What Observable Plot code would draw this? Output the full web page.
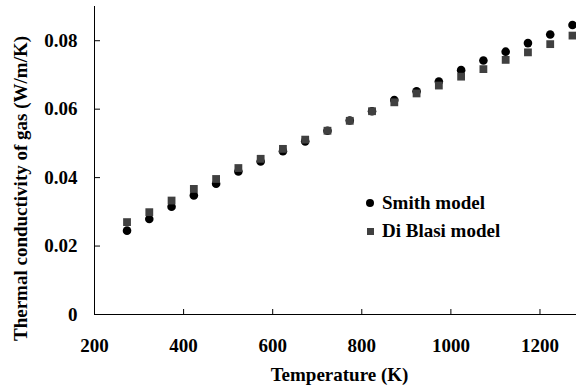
<!DOCTYPE html>
<html>
<head>
<meta charset="utf-8">
<script src="https://cdn.jsdelivr.net/npm/d3@7"></script>
<script src="https://cdn.jsdelivr.net/npm/@observablehq/plot@0.6"></script>
<style>
  html, body { margin: 0; padding: 0; background: #fff; }
  #wrap { position: relative; width: 576px; height: 391px; font-family: "Liberation Serif", "Times New Roman", serif; font-weight: bold; }
  #legend { position: absolute; left: 364px; top: 189px; font-size: 19px; line-height: 28px; color: #000; }
  #legend .row { display: flex; align-items: center; }
  #legend .sym { width: 12px; display: inline-flex; justify-content: center; margin-right: 6px; }
  #legend .circ { width: 8px; height: 8px; border-radius: 50%; background: #000; }
  #legend .sq { width: 7px; height: 7px; background: #404040; }
</style>
</head>
<body>
<div id="wrap"></div>
<script>
const temperature = [273, 323, 373, 423, 473, 523, 573, 623, 673, 723, 773, 823, 873, 923, 973, 1023, 1073, 1123, 1173, 1223, 1273];
const smith = [0.0245, 0.0279, 0.0315, 0.0348, 0.0382, 0.0418, 0.0447, 0.0477, 0.0506, 0.0537, 0.0567, 0.0594, 0.0627, 0.0652, 0.0681, 0.0714, 0.0742, 0.0768, 0.0793, 0.0818, 0.0846];
const diBlasi = [0.0270, 0.0299, 0.0333, 0.0367, 0.0396, 0.0428, 0.0455, 0.0484, 0.0511, 0.0537, 0.0566, 0.0594, 0.0620, 0.0646, 0.0669, 0.0695, 0.0717, 0.0744, 0.0766, 0.0790, 0.0815];
const xTicks = [200, 400, 600, 800, 1000, 1200];
const yTicks = [0, 0.02, 0.04, 0.06, 0.08];
const yTickLabels = ["0", "0.02", "0.04", "0.06", "0.08"];
const seriesNames = ["Smith model", "Di Blasi model"];
const xTitle = "Temperature (K)";
const yTitle = "Thermal conductivity of gas (W/m/K)";

const smithData = temperature.map((t, i) => ({t, k: smith[i]}));
const blasiData = temperature.map((t, i) => ({t, k: diBlasi[i]}));

const font = "Liberation Serif";
const chart = Plot.plot({
  width: 576,
  height: 391,
  marginLeft: 94,
  marginRight: 0,
  marginTop: 6,
  marginBottom: 77,
  style: {fontFamily: font, fontWeight: "bold", fontSize: "19px", color: "#000", background: "#fff"},
  x: {domain: [200, 1282], type: "linear"},
  y: {domain: [0, 0.09]},
  marks: [
    // tick labels
    Plot.axisX({ticks: xTicks, tickSize: 0, tickPadding: 24, tickFormat: d => String(d), fontSize: 19, fontWeight: "bold", label: null}),
    Plot.axisY({ticks: yTicks, tickSize: 0, tickPadding: 17, tickFormat: d => yTickLabels[yTicks.indexOf(d)], fontSize: 19, fontWeight: "bold", label: null}),
    // inward tick marks
    Plot.axisX({ticks: xTicks.slice(1), tickSize: -5, text: null, label: null, stroke: "#000"}),
    Plot.axisY({ticks: yTicks.slice(1), tickSize: -6, text: null, label: null, stroke: "#000"}),
    // axis lines
    Plot.ruleX([200], {stroke: "#000"}),
    Plot.ruleY([0], {stroke: "#000"}),
    // titles
    Plot.text([xTitle], {frameAnchor: "bottom", dx: 4, dy: 66, fontSize: 19, fontWeight: "bold", fill: "#000"}),
    Plot.text([yTitle], {frameAnchor: "left", textAnchor: "middle", dx: -74, dy: 28, rotate: -90, fontSize: 19, fontWeight: "bold", fill: "#000"}),
    // data
    Plot.dot(smithData, {x: "t", y: "k", r: 4.3, fill: "#000", stroke: null}),
    Plot.dot(blasiData, {x: "t", y: "k", r: 4.4, symbol: "square", fill: "#404040", stroke: null})
  ]
});
const wrap = document.getElementById("wrap");
wrap.appendChild(chart);
const legend = document.createElement("div");
legend.id = "legend";
legend.innerHTML =
  `<div class="row"><span class="sym"><span class="circ"></span></span><span>${seriesNames[0]}</span></div>` +
  `<div class="row"><span class="sym"><span class="sq"></span></span><span>${seriesNames[1]}</span></div>`;
wrap.appendChild(legend);
</script>
</body>
</html>
